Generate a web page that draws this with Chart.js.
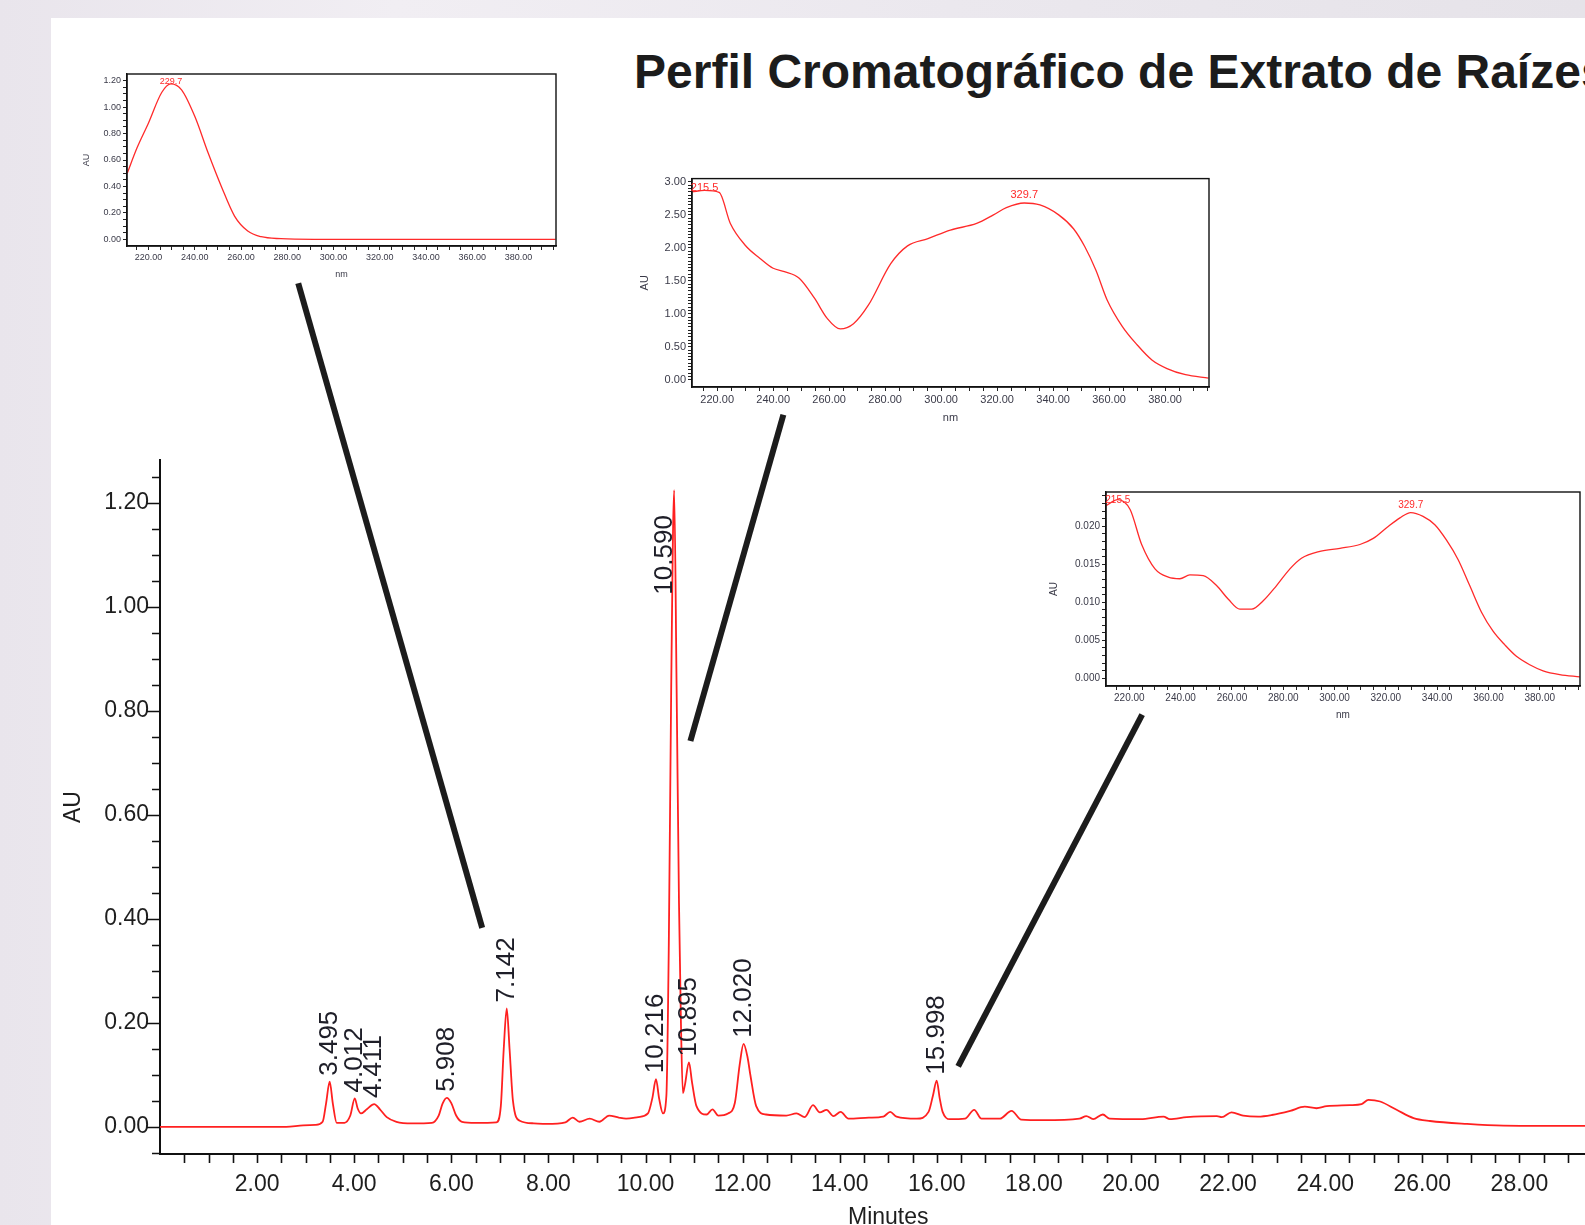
<!DOCTYPE html>
<html>
<head>
<meta charset="utf-8">
<title>Perfil Cromatográfico de Extrato de Raízes</title>
<script src="https://cdn.jsdelivr.net/npm/chart.js@4.4.1/dist/chart.umd.min.js"></script>
<style>
  html, body { margin: 0; padding: 0; width: 1585px; height: 1225px; overflow: hidden; }
  body {
    position: relative;
    background: linear-gradient(90deg, #e9e5ec 0%, #f1eef3 25%, #ebe8ee 60%, #e6e3e9 100%);
    font-family: "Liberation Sans", Arial, sans-serif;
  }
  #panel { position: absolute; left: 51px; top: 18px; right: 0; bottom: 0; background: #fff; }
  #title {
    position: absolute; left: 634px; top: 48px;
    font-size: 48px; line-height: 48px; font-weight: bold;
    white-space: nowrap; color: #1c1c1c;
  }
  canvas { position: absolute; }
</style>
</head>
<body>
<div id="panel"></div>
<div id="title">Perfil Cromatográfico de Extrato de Raízes</div>
<canvas id="main"></canvas>
<canvas id="spec1"></canvas>
<canvas id="spec2"></canvas>
<canvas id="spec3"></canvas>
<script>
// chromatogram (minutes / AU), grouped 10 per line
const times = [
  0, 2.6, 2.95, 3.2, 3.35, 3.42, 3.495, 3.56, 3.64, 3.8,
  3.92, 4.012, 4.07, 4.14, 4.26, 4.411, 4.53, 4.67, 4.87, 5.2,
  5.6, 5.74, 5.82, 5.908, 6.0, 6.1, 6.22, 6.5, 6.93, 7.02,
  7.08, 7.142, 7.2, 7.27, 7.41, 7.7, 7.96, 8.35, 8.5, 8.64,
  8.85, 9.05, 9.25, 9.45, 9.6, 9.85, 10.05, 10.14, 10.216, 10.28,
  10.36, 10.43, 10.48, 10.53, 10.59, 10.64, 10.69, 10.73, 10.77, 10.81,
  10.895, 10.96, 11.05, 11.26, 11.38, 11.5, 11.7, 11.84, 11.94, 12.02,
  12.1, 12.16, 12.28, 12.48, 12.9, 13.11, 13.28, 13.45, 13.59, 13.73,
  13.87, 14.02, 14.18, 14.6, 14.9, 15.04, 15.17, 15.59, 15.83, 15.92,
  15.998, 16.06, 16.12, 16.27, 16.58, 16.77, 16.92, 17.3, 17.54, 17.74,
  18.19, 18.94, 19.08, 19.22, 19.42, 19.56, 20.2, 20.67, 20.8, 21.15,
  21.77, 21.87, 22.07, 22.31, 22.62, 22.9, 23.28, 23.58, 23.82, 24.03,
  24.51, 24.75, 24.89, 25.13, 25.47, 25.82, 26.16, 26.92, 27.67, 28.5,
  30
];
const absorbance = [
  0, 0, 0.003, 0.004, 0.01, 0.045, 0.087, 0.045, 0.008, 0.008,
  0.022, 0.055, 0.036, 0.026, 0.034, 0.044, 0.034, 0.019, 0.01, 0.007,
  0.008, 0.022, 0.045, 0.056, 0.046, 0.022, 0.01, 0.008, 0.009, 0.04,
  0.15, 0.228, 0.15, 0.05, 0.012, 0.007, 0.006, 0.009, 0.018, 0.01,
  0.016, 0.01, 0.022, 0.018, 0.016, 0.019, 0.026, 0.055, 0.092, 0.055,
  0.026, 0.06, 0.35, 0.85, 1.225, 0.85, 0.43, 0.2, 0.065, 0.08,
  0.124, 0.085, 0.04, 0.024, 0.034, 0.022, 0.026, 0.046, 0.12, 0.16,
  0.135, 0.1, 0.04, 0.024, 0.022, 0.026, 0.019, 0.042, 0.028, 0.033,
  0.021, 0.029, 0.016, 0.018, 0.02, 0.029, 0.02, 0.016, 0.029, 0.06,
  0.089, 0.055, 0.029, 0.015, 0.016, 0.033, 0.016, 0.016, 0.031, 0.014,
  0.013, 0.016, 0.021, 0.015, 0.024, 0.016, 0.015, 0.02, 0.015, 0.019,
  0.021, 0.019, 0.028, 0.022, 0.02, 0.023, 0.031, 0.039, 0.036, 0.04,
  0.042, 0.044, 0.052, 0.049, 0.033, 0.017, 0.0115, 0.0058, 0.0025, 0.002,
  0.002
];
const peakLabels = ["3.495", "4.012", "4.411", "5.908", "7.142", "10.216", "10.590", "10.895", "12.020", "15.998"];

// UV spectra of the marked peaks (nm / AU)
const spec1Nm = [210.8, 215, 220, 225.7, 229.7, 234.3, 240, 245.8, 251.5, 257.2, 262.9, 268.7, 277.3, 291.6, 396];
const spec1Au = [0.5, 0.69, 0.88, 1.11, 1.175, 1.13, 0.93, 0.653, 0.40, 0.176, 0.063, 0.02, 0.005, 0.0, 0.0];
const spec1Peaks = [229.7];

const spec2Nm = [211, 215.5, 220.7, 224.7, 230, 235.3, 240, 244, 249.3, 254.7,
  259.3, 264, 268.7, 274, 282, 288, 295.3, 303.3, 312.7, 318.7,
  323.3, 329.7, 335.3, 342, 347.3, 351.3, 355.3, 359.3, 364.7, 370,
  375.3, 380.7, 387.3, 395.5];
const spec2Au = [2.85, 2.87, 2.84, 2.37, 2.04, 1.84, 1.69, 1.64, 1.54, 1.24,
  0.93, 0.77, 0.85, 1.13, 1.76, 2.03, 2.14, 2.27, 2.37, 2.50,
  2.61, 2.68, 2.65, 2.50, 2.29, 2.02, 1.66, 1.21, 0.81, 0.53,
  0.30, 0.17, 0.076, 0.025];
const spec2Peaks = [215.5, 329.7];

const spec3Nm = [210.9, 215.5, 220.3, 224.8, 230, 235.2, 239.7, 243.6, 248.8, 254,
  258.6, 263.1, 267.7, 272.2, 277.4, 282.6, 287.1, 294.3, 302.1, 309.9,
  315.1, 320.3, 325.5, 329.7, 334.5, 339.1, 343.6, 348.2, 352.7, 357.3,
  361.8, 366.4, 370.9, 376.1, 381.3, 387.8, 395.6];
const spec3Au = [0.0227, 0.0235, 0.0222, 0.0176, 0.0144, 0.0133, 0.0131, 0.0136, 0.0135, 0.0122,
  0.0104, 0.0091, 0.0091, 0.0102, 0.0122, 0.0144, 0.0158, 0.0167, 0.0171, 0.0176,
  0.0184, 0.0198, 0.0211, 0.0218, 0.0213, 0.0202, 0.0182, 0.0156, 0.0122, 0.0087,
  0.0062, 0.0044, 0.0029, 0.0018, 0.0010, 0.0005, 0.0002];
const spec3Peaks = [215.5, 329.7];

// lines from the spectra down to their peaks, in chromatogram units
const connectors = [
  { from: [2.847, 1.623], to: [6.636, 0.383] },
  { from: [12.84, 1.370], to: [10.925, 0.7425] },
  { from: [20.23, 0.793], to: [16.44, 0.1165] }
];

const FONT = "'Liberation Sans', Arial, sans-serif";

function tickValues(from, to, step) {
  const out = [];
  const n = Math.round((to - from) / step);
  for (let i = 0; i <= n; i++) out.push(+(from + i * step).toFixed(6));
  return out;
}
function isMult(v, step) {
  return Math.abs(v / step - Math.round(v / step)) < 1e-6;
}
function toPoints(xs, ys) {
  return xs.map((x, i) => ({ x: x, y: ys[i] }));
}
function sizeCanvas(cv, left, top, w, h) {
  cv.width = w; cv.height = h;
  cv.style.left = left + "px"; cv.style.top = top + "px";
  cv.style.width = w + "px"; cv.style.height = h + "px";
}

// ---------- main chromatogram ----------
const xTicks = tickValues(0.5, 29.5, 0.5);
const yTicks = tickValues(-0.05, 1.25, 0.05);

const chromDecor = {
  id: "chromDecor",
  afterDraw(chart) {
    const { ctx, chartArea: a, scales: { x, y } } = chart;
    ctx.save();
    // tick marks
    ctx.strokeStyle = "#111";
    ctx.lineWidth = 1.6;
    ctx.beginPath();
    xTicks.forEach(v => {
      const px = Math.round(x.getPixelForValue(v)) + 0.5;
      ctx.moveTo(px, a.bottom); ctx.lineTo(px, a.bottom + 9);
    });
    yTicks.forEach(v => {
      const py = Math.round(y.getPixelForValue(v)) + 0.5;
      const len = isMult(v, 0.2) ? 13 : 8;
      ctx.moveTo(a.left, py); ctx.lineTo(a.left - len, py);
    });
    ctx.stroke();

    // retention time labels
    const pts = chart.data.datasets[0].data;
    ctx.font = "26px " + FONT;
    ctx.fillStyle = "#1e1e28";
    ctx.textBaseline = "middle";
    ctx.textAlign = "left";
    peakLabels.forEach(txt => {
      const t = parseFloat(txt);
      let best = null;
      pts.forEach(p => { if (Math.abs(p.x - t) < 0.05 && (!best || p.y > best.y)) best = p; });
      let px = x.getPixelForValue(t);
      const py = y.getPixelForValue(best.y);
      const w = ctx.measureText(txt).width;
      let start = py - 6;
      if (start - w < a.top) { start = py + 25 + w; px -= 9; }
      ctx.save();
      ctx.translate(px, start);
      ctx.rotate(-Math.PI / 2);
      ctx.fillText(txt, 0, 0);
      ctx.restore();
    });

    // connector lines
    ctx.strokeStyle = "#1c1c1c";
    ctx.lineWidth = 6;
    ctx.lineCap = "butt";
    connectors.forEach(c => {
      ctx.beginPath();
      ctx.moveTo(x.getPixelForValue(c.from[0]), y.getPixelForValue(c.from[1]));
      ctx.lineTo(x.getPixelForValue(c.to[0]), y.getPixelForValue(c.to[1]));
      ctx.stroke();
    });
    ctx.restore();
  }
};

const mainCv = document.getElementById("main");
sizeCanvas(mainCv, 0, 0, 1620, 1240);

new Chart(mainCv, {
  type: "line",
  data: {
    datasets: [{
      data: toPoints(times, absorbance),
      borderColor: "#ff2020",
      borderWidth: 1.8,
      pointRadius: 0,
      fill: false,
      cubicInterpolationMode: "monotone"
    }]
  },
  options: {
    responsive: false,
    animation: false,
    events: [],
    devicePixelRatio: 1,
    layout: { padding: { top: 460, right: 3.5, left: 0, bottom: 0 } },
    plugins: { legend: { display: false }, tooltip: { enabled: false } },
    scales: {
      x: {
        type: "linear",
        min: 0,
        max: 30,
        afterFit(s) { s.height = 86; },
        afterBuildTicks(s) { s.ticks = xTicks.map(v => ({ value: v })); },
        grid: { display: false, drawTicks: false },
        border: { display: true, color: "#111", width: 2 },
        ticks: {
          autoSkip: false, maxRotation: 0, padding: 17,
          color: "#1e1e1e", font: { family: FONT, size: 23 },
          callback: v => (isMult(v, 2) ? v.toFixed(2) : "")
        },
        title: {
          display: true, text: "Minutes", color: "#1e1e1e",
          font: { family: FONT, size: 23 }, padding: { top: 0, bottom: 8.8 }
        }
      },
      y: {
        min: -0.052,
        max: 1.283,
        afterFit(s) { s.width = 160; },
        afterBuildTicks(s) { s.ticks = yTicks.map(v => ({ value: v })); },
        grid: { display: false, drawTicks: false },
        border: { display: true, color: "#111", width: 2 },
        ticks: {
          autoSkip: false, padding: 11,
          color: "#1e1e1e", font: { family: FONT, size: 23 },
          callback: v => (isMult(v, 0.2) ? v.toFixed(2) : "")
        },
        title: {
          display: true, text: "AU", color: "#1e1e1e",
          font: { family: FONT, size: 23 }, padding: { top: 59.8, bottom: 0 }
        }
      }
    }
  },
  plugins: [chromDecor]
});

// ---------- inset spectra ----------
const insetDecor = {
  id: "insetDecor",
  afterDatasetsDraw(chart, args, opts) {
    const { ctx, chartArea: a, scales: { x, y } } = chart;
    ctx.save();
    ctx.strokeStyle = "#111";
    ctx.lineWidth = 1.4;
    ctx.strokeRect(a.left, a.top, a.right - a.left, a.bottom - a.top);
    const pts = chart.data.datasets[0].data;
    ctx.fillStyle = "#ff2a2a";
    ctx.font = opts.size + "px " + FONT;
    ctx.textAlign = "center";
    ctx.textBaseline = "alphabetic";
    opts.peaks.forEach(nm => {
      let best = pts[0];
      pts.forEach(p => { if (Math.abs(p.x - nm) < Math.abs(best.x - nm)) best = p; });
      const px = x.getPixelForValue(nm);
      const py = y.getPixelForValue(best.y);
      const by = Math.max(py - 5, a.top + opts.size + 1);
      ctx.fillText(nm.toFixed(1), px, by);
    });
    ctx.restore();
  }
};

function makeInset(id, g, xs, ys, peaks) {
  const yw = 60, xh = 40, pt = 8, pr = 6;
  const w = g.r - g.l, h = g.b - g.t;
  const cv = document.getElementById(id);
  sizeCanvas(cv, g.l - yw, g.t - pt, yw + w + pr, pt + h + xh);
  const lh = g.font * 1.2;
  const xt = tickValues(215, 395, 5);
  const yt = tickValues(0, g.yTop, g.yStep);
  new Chart(cv, {
    type: "line",
    data: {
      datasets: [{
        data: toPoints(xs, ys),
        borderColor: "#ff2a2a",
        borderWidth: 1.3,
        pointRadius: 0,
        fill: false,
        cubicInterpolationMode: "monotone"
      }]
    },
    options: {
      responsive: false,
      animation: false,
      events: [],
      devicePixelRatio: 1,
      layout: { padding: { top: pt, right: pr, left: 0, bottom: 0 } },
      plugins: {
        legend: { display: false }, tooltip: { enabled: false },
        insetDecor: { peaks: peaks, size: g.font }
      },
      scales: {
        x: {
          type: "linear", min: g.x0, max: g.x1,
          afterFit(s) { s.height = xh; },
          afterBuildTicks(s) { s.ticks = xt.map(v => ({ value: v })); },
          grid: { drawOnChartArea: false, tickLength: 4, color: "#222" },
          border: { color: "#111", width: 1.4 },
          ticks: {
            autoSkip: false, maxRotation: 0, padding: 2,
            color: "#3a3a48", font: { family: FONT, size: g.font },
            callback: v => (isMult(v, 20) ? v.toFixed(2) : "")
          },
          title: {
            display: true, text: "nm", color: "#3a3a48",
            font: { family: FONT, size: g.font },
            padding: { top: 0, bottom: (xh - g.nmOff) - lh / 2 }
          }
        },
        y: {
          min: g.y0, max: g.y1,
          afterFit(s) { s.width = yw; },
          afterBuildTicks(s) { s.ticks = yt.map(v => ({ value: v })); },
          grid: { drawOnChartArea: false, tickLength: 4, color: "#222" },
          border: { color: "#111", width: 1.4 },
          ticks: {
            autoSkip: false, padding: 2,
            color: "#3a3a48", font: { family: FONT, size: g.font },
            callback: v => (isMult(v, g.yLabel) ? v.toFixed(g.dec) : "")
          },
          title: {
            display: true, text: "AU", color: "#3a3a48",
            font: { family: FONT, size: g.font },
            padding: { top: (yw - g.auOff) - lh / 2, bottom: 0 }
          }
        }
      }
    },
    plugins: [insetDecor]
  });
}

makeInset("spec1",
  { l: 127, r: 556, t: 74, b: 246, x0: 210.7, x1: 396.2, y0: -0.05, y1: 1.25,
    yTop: 1.2, yStep: 0.05, yLabel: 0.2, dec: 2, font: 9, nmOff: 29, auOff: 40 },
  spec1Nm, spec1Au, spec1Peaks);

makeInset("spec2",
  { l: 692, r: 1209, t: 178, b: 387, x0: 211, x1: 395.7, y0: -0.11, y1: 3.05,
    yTop: 3.0, yStep: 0.05, yLabel: 0.5, dec: 2, font: 11, nmOff: 31, auOff: 47 },
  spec2Nm, spec2Au, spec2Peaks);

makeInset("spec3",
  { l: 1106, r: 1580, t: 492, b: 686, x0: 210.9, x1: 395.7, y0: -0.001, y1: 0.0245,
    yTop: 0.024, yStep: 0.001, yLabel: 0.005, dec: 3, font: 10, nmOff: 29, auOff: 52 },
  spec3Nm, spec3Au, spec3Peaks);
</script>
</body>
</html>
